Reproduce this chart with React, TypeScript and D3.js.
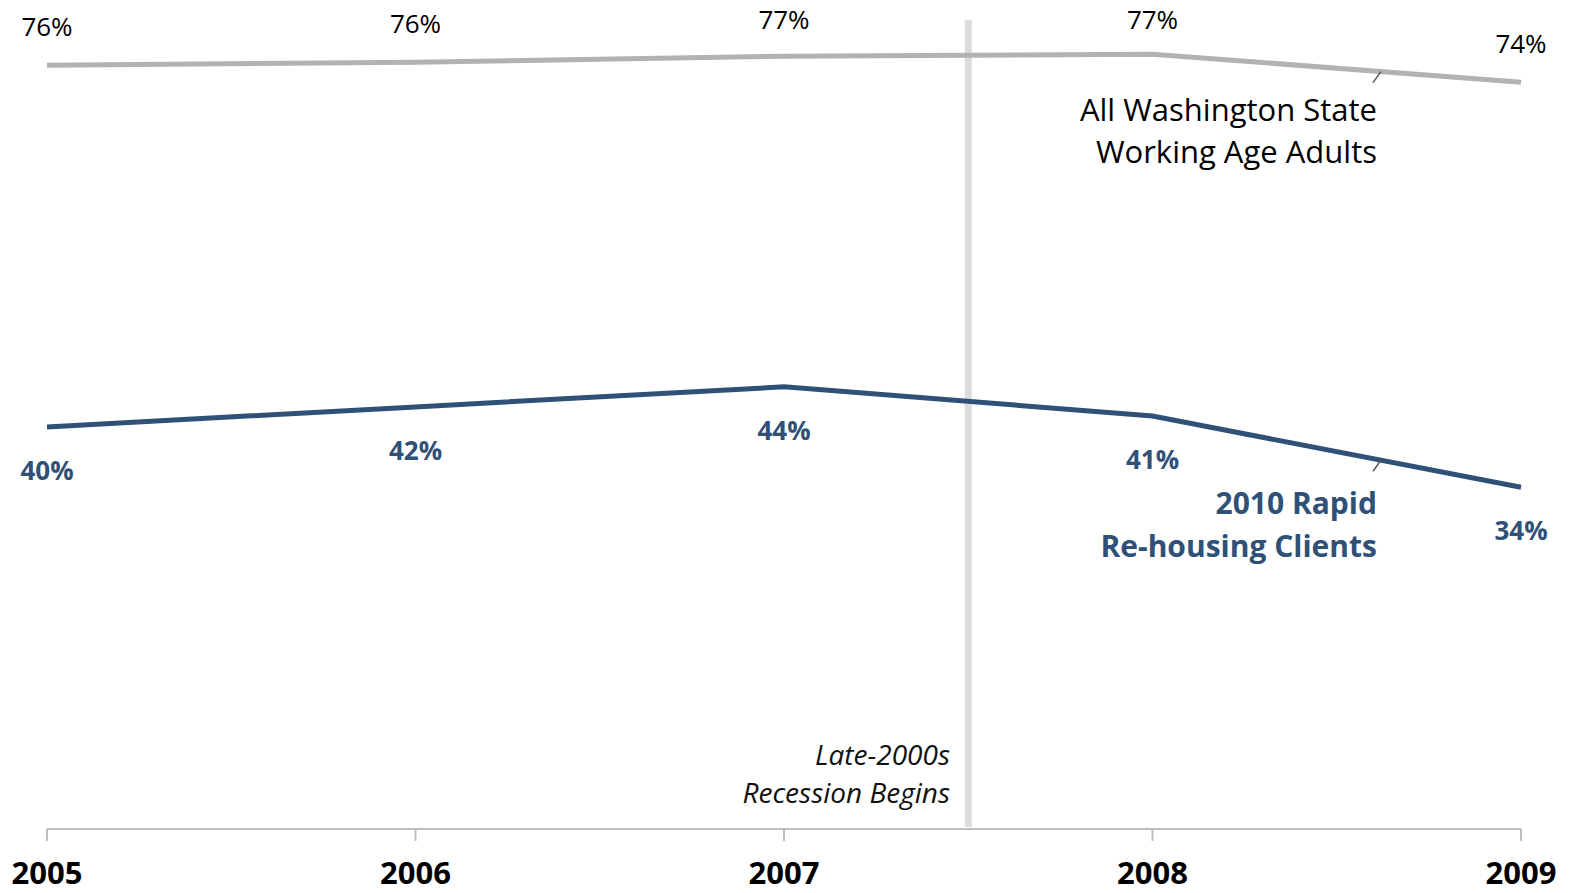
import React from 'react';
import * as d3 from 'd3';

// values
const years = [2005, 2006, 2007, 2008, 2009];
const stateAdults = [76.0, 76.3, 76.9, 77.1, 74.3];
const rapidClients = [40.0, 42.0, 44.0, 41.1, 34.0];
const stateLabels = ['76%', '76%', '77%', '77%', '74%'];
const clientLabels = ['40%', '42%', '44%', '41%', '34%'];
const recessionStart = 2007.5;
const leaderYear = 2008.62;

const W = 1573;
const H = 893;
const FONT = '"Open Sans", "Noto Sans", sans-serif';
const GRAY = '#b2b2b2';
const BLUE = '#2f5077';

const x = d3.scaleLinear().domain([2005, 2009]).range([47, 1521]);
const y = d3.scaleLinear().domain([0, 80.3]).range([829, 22]);

const line = d3.line<number>()
  .x((d, i) => x(years[i]))
  .y(d => y(d));

// value on a series between two years, used to hook the leader lines
const valueAt = (vals: number[], yr: number) =>
  d3.scaleLinear().domain(years).range(vals)(yr);

const App = () => {
  const grayHook = { x: x(leaderYear), y: y(valueAt(stateAdults, leaderYear)) };
  const blueHook = { x: x(leaderYear), y: y(valueAt(rapidClients, leaderYear)) };

  return (
    <svg width={W} height={H} style={{ position: 'absolute', left: 0, top: 0, background: '#fff' }}
      fontFamily={FONT}>
      {/* recession marker */}
      <line x1={x(recessionStart)} x2={x(recessionStart)} y1={20} y2={y(0) - 2}
        stroke="#dcdcdc" strokeWidth={7} />

      {/* x axis */}
      <line x1={x(2005)} x2={x(2009)} y1={y(0)} y2={y(0)} stroke="#bfbfbf" strokeWidth={2} />
      {years.map(yr => (
        <g key={yr}>
          <line x1={x(yr)} x2={x(yr)} y1={y(0)} y2={y(0) + 12} stroke="#bfbfbf" strokeWidth={2} />
          <text x={x(yr)} y={884} textAnchor="middle" fontSize={31} fontWeight="bold" fill="#000">{yr}</text>
        </g>
      ))}

      {/* series */}
      <path d={line(stateAdults) || ''} fill="none" stroke={GRAY} strokeWidth={5} />
      <path d={line(rapidClients) || ''} fill="none" stroke={BLUE} strokeWidth={5} />

      {stateAdults.map((v, i) => (
        <text key={'s' + i} x={x(years[i])} y={Math.max(y(v) - 29, 29)} textAnchor="middle" fontSize={26} fill="#000">
          {stateLabels[i]}
        </text>
      ))}
      {rapidClients.map((v, i) => (
        <text key={'c' + i} x={x(years[i])} y={y(v) + 53} textAnchor="middle" fontSize={26}
          fontWeight="bold" fill={BLUE}>
          {clientLabels[i]}
        </text>
      ))}

      {/* series annotations with leader lines */}
      <line x1={grayHook.x} y1={grayHook.y} x2={grayHook.x - 8} y2={grayHook.y + 11} stroke="#555" strokeWidth={1.5} />
      <text x={1377} y={121} textAnchor="end" fontSize={31} fill="#000">All Washington State</text>
      <text x={1377} y={163} textAnchor="end" fontSize={31} fill="#000">Working Age Adults</text>

      <line x1={blueHook.x} y1={blueHook.y} x2={blueHook.x - 8} y2={blueHook.y + 11} stroke="#555" strokeWidth={1.5} />
      <text x={1377} y={514} textAnchor="end" fontSize={30} fontWeight="bold" fill={BLUE}>2010 Rapid</text>
      <text x={1377} y={557} textAnchor="end" fontSize={30} fontWeight="bold" fill={BLUE}>Re-housing Clients</text>

      <text x={950} y={765} textAnchor="end" fontSize={28} fontStyle="italic" fill="#111">Late-2000s</text>
      <text x={950} y={803} textAnchor="end" fontSize={28} fontStyle="italic" fill="#111">Recession Begins</text>
    </svg>
  );
};

export default App;
